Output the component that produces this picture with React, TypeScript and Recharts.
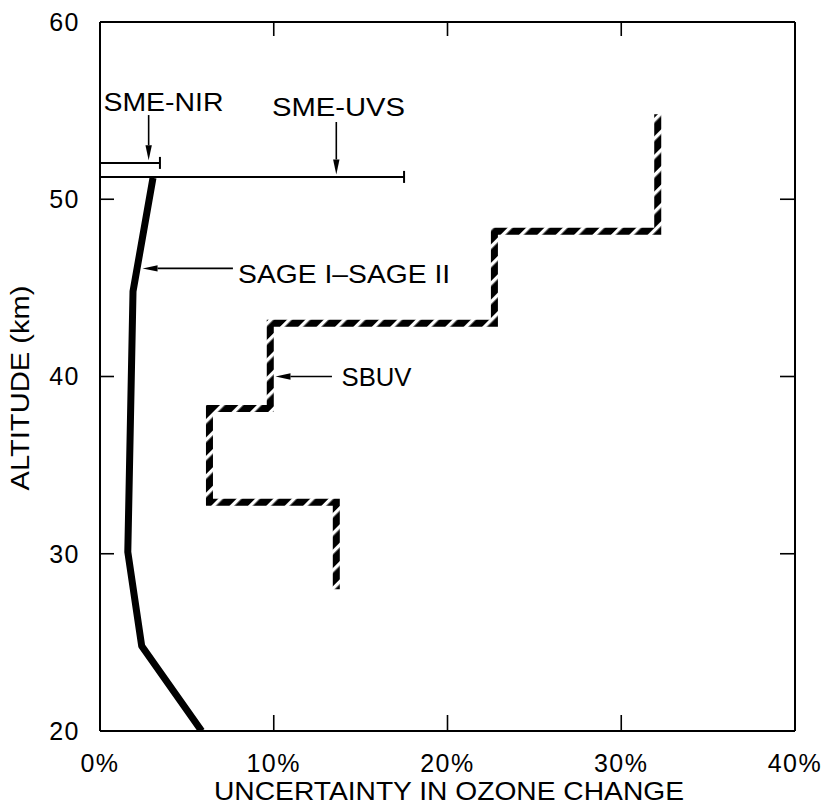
import React from 'react';
import {
    ComposedChart,
    Scatter,
    XAxis,
    YAxis,
    ReferenceLine,
    ReferenceDot
} from 'recharts';

const FONT = '"Liberation Sans", Arial, sans-serif';

// axis ticks
const xTicks = [0, 10, 20, 30, 40];
const yTicks = [20, 30, 40, 50, 60];
const xInner = [10, 20, 30];
const yInner = [30, 40, 50];

// SAGE I - SAGE II uncertainty profile (% vs km)
const sagePct = [5.85, 2.4, 1.6, 1.9, 3.05];
const sageAlt = [20, 24.8, 30.1, 44.8, 51.2];

// SBUV step profile, corners of the steps
const sbuvPct = [13.6, 13.6, 6.3, 6.3, 9.8, 9.8, 22.7, 22.7, 32.1, 32.1];
const sbuvAlt = [28, 32.9, 32.9, 38.2, 38.2, 43, 43, 48.2, 48.2, 54.8];

// SME single-level uncertainties: [from %, to %, altitude]
const smeNames = ['SME-NIR', 'SME-UVS'];
const smeFrom = [0, 0];
const smeTo = [3.45, 17.5];
const smeAlt = [52.05, 51.26];

// label anchors (left edge, vertical centre) and arrows
const labelText = ['SME-NIR', 'SME-UVS', 'SAGE I\u2013SAGE II', 'SBUV'];
const labelPct = [0.2, 9.9, 7.95, 13.9];
const labelAlt = [55.5, 55.2, 45.8, 40.0];
const labelLen = [120, 133, 212, 70];

const arrowFrom = [[2.8, 54.75], [13.6, 54.36], [7.65, 46.1], [13.35, 40.0]];
const arrowTo = [[2.8, 52.2], [13.6, 51.4], [2.45, 46.1], [10.1, 40.0]];

const sageData = sagePct.map((x, i) => ({ x, y: sageAlt[i] }));
const sbuvData = sbuvPct.map((x, i) => ({ x, y: sbuvAlt[i] }));

const Arrow = (p: any) => {
    const { x1, y1, x2, y2 } = p;
    const ang = Math.atan2(y2 - y1, x2 - x1);
    const len = 15;
    const half = 3.2;
    const bx = x2 - len * Math.cos(ang);
    const by = y2 - len * Math.sin(ang);
    const nx = -Math.sin(ang) * half;
    const ny = Math.cos(ang) * half;
    return (
        <g>
            <line x1={x1} y1={y1} x2={bx} y2={by} stroke="#000" strokeWidth={1.6} />
            <polygon points={`${x2},${y2} ${bx + nx},${by + ny} ${bx - nx},${by - ny}`} fill="#000" />
        </g>
    );
};

const ErrBar = (p: any) => {
    const { x1, y1, x2, y2 } = p;
    return (
        <g>
            <line x1={x1} y1={y1} x2={x2} y2={y2} stroke="#000" strokeWidth={2} />
            <line x1={x2} y1={y2 - 6} x2={x2} y2={y2 + 6} stroke="#000" strokeWidth={2} />
        </g>
    );
};

// inward tick marks
const tickMark = (dx: number, dy: number) => (p: any) => (
    <line x1={p.cx} y1={p.cy} x2={p.cx + dx} y2={p.cy + dy} stroke="#000" strokeWidth={1.6} />
);

const NoDot = () => <g />;

const tickStyle = { fill: '#000', fontSize: 25, fontFamily: FONT, letterSpacing: 1.5 };

export default function App() {
    return (
        <div style={{ position: 'absolute', left: 0, top: 0, background: '#fff' }}>
            <ComposedChart
                width={823}
                height={807}
                margin={{ top: 22, right: 28, bottom: 0, left: 0 }}
            >
                <defs>
                    <pattern
                        id="hatch"
                        patternUnits="userSpaceOnUse"
                        width="13"
                        height="13"
                        patternTransform="rotate(45)"
                    >
                        <rect width="13" height="13" fill="#000" />
                        <rect x="0" y="0" width="3.4" height="13" fill="#fff" />
                    </pattern>
                </defs>
                <XAxis
                    type="number"
                    dataKey="x"
                    domain={[0, 40]}
                    ticks={xTicks}
                    allowDataOverflow
                    tickFormatter={(v) => `${v}%`}
                    height={76}
                    tickLine={false}
                    tickMargin={17}
                    axisLine={{ stroke: '#000', strokeWidth: 2 }}
                    tick={tickStyle}
                    label={{
                        content: () => (
                            <text
                                x={449}
                                y={800}
                                textAnchor="middle"
                                fontSize={25}
                                fontFamily={FONT}
                                fill="#000"
                                textLength={470}
                                lengthAdjust="spacingAndGlyphs"
                            >
                                UNCERTAINTY IN OZONE CHANGE
                            </text>
                        )
                    }}
                />
                <YAxis
                    type="number"
                    dataKey="y"
                    domain={[20, 60]}
                    ticks={yTicks}
                    allowDataOverflow
                    width={100}
                    tickLine={false}
                    tickMargin={14}
                    axisLine={{ stroke: '#000', strokeWidth: 2 }}
                    tick={tickStyle}
                    label={{
                        content: () => (
                            <text
                                x={20}
                                y={388}
                                transform="rotate(-90 20 388)"
                                textAnchor="middle"
                                dominantBaseline="central"
                                fontSize={26}
                                fontFamily={FONT}
                                fill="#000"
                                textLength={205}
                                lengthAdjust="spacingAndGlyphs"
                            >
                                ALTITUDE (km)
                            </text>
                        )
                    }}
                />

                {/* top and right frame */}
                <ReferenceLine y={60} stroke="#000" strokeWidth={2} />
                <ReferenceLine x={40} stroke="#000" strokeWidth={2} />

                {xInner.map((t) => (
                    <ReferenceDot key={`xb${t}`} x={t} y={20} shape={tickMark(0, -16)} />
                ))}
                {xInner.map((t) => (
                    <ReferenceDot key={`xt${t}`} x={t} y={60} shape={tickMark(0, 14)} />
                ))}
                {yInner.map((t) => (
                    <ReferenceDot key={`yl${t}`} x={0} y={t} shape={tickMark(14, 0)} />
                ))}
                {yInner.map((t) => (
                    <ReferenceDot key={`yr${t}`} x={40} y={t} shape={tickMark(-15, 0)} />
                ))}

                <Scatter
                    name="SAGE I-SAGE II"
                    data={sageData}
                    line={{ stroke: '#000', strokeWidth: 7, strokeLinejoin: 'round' }}
                    shape={NoDot}
                    isAnimationActive={false}
                />
                <Scatter
                    name="SBUV"
                    data={sbuvData}
                    line={{ stroke: 'url(#hatch)', strokeWidth: 7, strokeLinejoin: 'miter', fill: 'none' }}
                    shape={NoDot}
                    isAnimationActive={false}
                />

                {smeNames.map((n, i) => (
                    <ReferenceLine
                        key={n}
                        segment={[
                            { x: smeFrom[i], y: smeAlt[i] },
                            { x: smeTo[i], y: smeAlt[i] }
                        ]}
                        shape={ErrBar}
                    />
                ))}

                {arrowFrom.map((a, i) => (
                    <ReferenceLine
                        key={`arrow-${i}`}
                        segment={[
                            { x: a[0], y: a[1] },
                            { x: arrowTo[i][0], y: arrowTo[i][1] }
                        ]}
                        shape={Arrow}
                    />
                ))}

                {labelText.map((t, i) => (
                    <ReferenceDot
                        key={t}
                        x={labelPct[i]}
                        y={labelAlt[i]}
                        shape={(p: any) => (
                            <text
                                x={p.cx}
                                y={p.cy}
                                dominantBaseline="central"
                                fontSize={25}
                                fontFamily={FONT}
                                fill="#000"
                                textLength={labelLen[i]}
                                lengthAdjust="spacingAndGlyphs"
                            >
                                {t}
                            </text>
                        )}
                    />
                ))}
            </ComposedChart>
        </div>
    );
}
